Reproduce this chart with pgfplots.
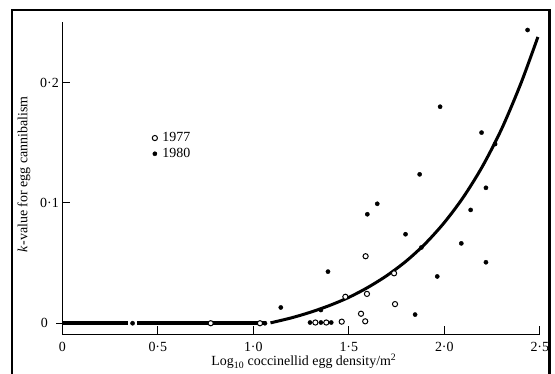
\documentclass[border=0pt]{standalone}
\usepackage{fontspec}
\setmainfont{Liberation Serif}
\usepackage{pgfplots}
\pgfplotsset{compat=1.18}
\newcommand{\fs}{\fontsize{14}{16.5}\selectfont}
\begin{document}
\begin{tikzpicture}
\begin{axis}[
  name=ax, at={(0,0)}, anchor=south west,
  scale only axis, width=477.5bp, height=312.6bp,
  xmin=0, xmax=2.5, ymin=-0.0092, ymax=0.2507,
  axis lines=left,
  axis line style={-, line width=1bp},
  tick align=inside,
  major tick length=8bp,
  tick style={line width=1bp, black},
  xtick={0,0.5,1,1.5,2,2.5},
  xticklabels={0,0·5,1·0,1·5,2·0,2·5},
  ytick={0.1,0.2},
  yticklabels={0·1,0·2},
  extra y ticks={0},
  extra y tick labels={0},
  extra y tick style={tick align=outside, major tick length=6bp, yticklabel style={xshift=-5bp}},
  ticklabel style={font=\fs},
  xticklabel style={yshift=-4bp},
  xlabel={Log\textsubscript{10} coccinellid egg density/m\textsuperscript{2}},
  ylabel={\textit{k}-value for egg cannibalism},
  label style={font=\fs},
  xlabel style={at={(axis description cs:0.506,-0.101)}, anchor=base},
  ylabel style={at={(axis description cs:-0.073,0.512)}, anchor=base},
  legend entries={1977,1980},
  legend cell align=left,
  legend style={draw=none, fill=none, font=\fs, inner sep=0pt,
    at={(axis description cs:0.188,0.652)}, anchor=north west, row sep=1bp,
    /tikz/column sep=3bp},
]
% zero line (two segments) and fitted curve
\addplot[black, line width=3.5bp, forget plot] coordinates {(0,0) (0.345,0)};
\addplot[black, line width=3.5bp, forget plot] coordinates {(0.392,0) (1.065,0)};
\addplot[black, line width=3bp, smooth, forget plot] coordinates {
(1.09,0.0003) (1.20,0.0045) (1.30,0.0092) (1.40,0.0148) (1.50,0.0215)
(1.60,0.0298) (1.70,0.0397) (1.80,0.0516) (1.90,0.0661) (2.00,0.0837)
(2.10,0.1049) (2.20,0.1305) (2.30,0.1615) (2.40,0.1990) (2.49,0.2380)};
% 1977
\addplot[only marks, mark=*, mark size=2.6bp,
  mark options={fill=white, draw=black, line width=1bp}] coordinates {
(0.777,0) (1.035,0) (1.325,0.0006) (1.382,0.0006) (1.463,0.0013)
(1.482,0.0220) (1.588,0.0557) (1.595,0.0244) (1.564,0.0079) (1.586,0.0016)
(1.737,0.0415) (1.742,0.0159)};
% 1980
\addplot[only marks, mark=*, mark size=2.1bp,
  mark options={fill=black, draw=black}] coordinates {
(0.368,0) (1.061,0) (1.144,0.0131) (1.297,0.0006) (1.354,0.0006) (1.408,0.0006)
(1.354,0.0110) (1.391,0.0429) (1.597,0.0906) (1.649,0.0993) (1.797,0.0740)
(1.847,0.0072) (1.871,0.1238) (1.880,0.0630) (1.963,0.0389) (1.978,0.1800)
(2.089,0.0664) (2.138,0.0942) (2.195,0.1585) (2.218,0.1126) (2.218,0.0507)
(2.266,0.1490) (2.436,0.2438)};
\end{axis}
\draw[line width=2.6bp] (-50.3bp,-45bp) -- (-50.3bp,324.3bp) -- (487.2bp,324.3bp) -- (487.2bp,-45bp);
\pgfresetboundingbox
\path[use as bounding box] (-62.3bp,-39.7bp) rectangle (492.7bp,334.3bp);
\end{tikzpicture}
\end{document}
